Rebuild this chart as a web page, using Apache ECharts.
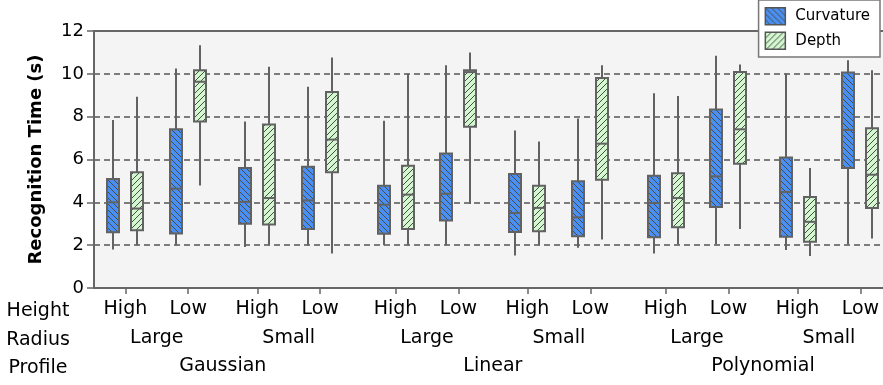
<!DOCTYPE html>
<html>
<head>
<meta charset="utf-8">
<script src="https://cdn.jsdelivr.net/npm/echarts@6/dist/echarts.min.js"></script>
<style>html,body{margin:0;padding:0;background:#fff}#c{width:883px;height:385px}</style>
</head>
<body>
<div id="c"></div>
<script>
// ---- data ----
const heights = ['High', 'Low'];
const radii = ['Large', 'Small'];
const profiles = ['Gaussian', 'Linear', 'Polynomial'];
const seriesNames = ['Curvature', 'Depth'];
const yTicks = [0, 2, 4, 6, 8, 10, 12];
// [min, q1, median, q3, max] per category, order: profile > radius > height
const curvature = [
  [1.80, 2.60, 4.00, 5.09, 7.84],
  [2.00, 2.54, 4.64, 7.41, 10.25],
  [1.92, 3.00, 4.02, 5.60, 7.77],
  [2.00, 2.76, 4.09, 5.66, 9.40],
  [2.00, 2.53, 3.89, 4.78, 7.81],
  [2.00, 3.15, 4.40, 6.28, 10.40],
  [1.52, 2.62, 3.50, 5.32, 7.35],
  [1.88, 2.42, 3.30, 4.98, 7.92],
  [1.61, 2.37, 3.97, 5.24, 9.09],
  [2.03, 3.78, 5.21, 8.34, 10.84],
  [1.77, 2.39, 4.48, 6.09, 10.02],
  [2.03, 5.60, 7.38, 10.06, 10.64]
];
const depth = [
  [2.00, 2.70, 3.71, 5.40, 8.93],
  [4.79, 7.77, 9.63, 10.17, 11.33],
  [2.00, 2.96, 4.20, 7.64, 10.33],
  [1.61, 5.40, 6.93, 9.15, 10.76],
  [2.00, 2.76, 4.36, 5.71, 10.00],
  [3.92, 7.53, 10.08, 10.17, 11.00],
  [2.00, 2.65, 3.74, 4.78, 6.84],
  [2.26, 5.05, 6.74, 9.81, 10.40],
  [2.03, 2.84, 4.20, 5.36, 8.96],
  [2.76, 5.80, 7.41, 10.09, 10.43],
  [1.49, 2.16, 3.09, 4.25, 5.60],
  [2.31, 3.74, 5.29, 7.46, 10.17]
];

// ---- layout of categories along x (gaps between groups) ----
const GAP_H = 20, GAP_R = 42, GAP_P = 86;
const catPos = [], heightLabelMap = {}, radiusLabelMap = {}, profileLabelMap = {};
profiles.forEach((p, pi) => {
  radii.forEach((r, ri) => {
    heights.forEach((h, hi) => {
      const x = pi * GAP_P + ri * GAP_R + hi * GAP_H;
      catPos.push(x);
      heightLabelMap[x] = h;
    });
    const mid = pi * GAP_P + ri * GAP_R + GAP_H / 2;
    radiusLabelMap[mid] = r;
  });
  const pmid = pi * GAP_P + (GAP_R + GAP_H) / 2;
  profileLabelMap[pmid] = p;
});
const radiusPos = Object.keys(radiusLabelMap).map(Number);
const profilePos = Object.keys(profileLabelMap).map(Number);

function hatch(bg, dir) {
  const s = 6;
  const c = document.createElement('canvas');
  c.width = s; c.height = s;
  const g = c.getContext('2d');
  g.fillStyle = bg; g.fillRect(0, 0, s, s);
  g.strokeStyle = '#4a4a4a'; g.lineWidth = 1;
  g.beginPath();
  if (dir === 'back') {
    g.moveTo(0, 0); g.lineTo(s, s);
    g.moveTo(-1, s - 1); g.lineTo(1, s + 1);
    g.moveTo(s - 1, -1); g.lineTo(s + 1, 1);
  } else {
    g.moveTo(0, s); g.lineTo(s, 0);
    g.moveTo(-1, 1); g.lineTo(1, -1);
    g.moveTo(s - 1, s + 1); g.lineTo(s + 1, s - 1);
  }
  g.stroke();
  return { type: 'pattern', image: c, repeat: 'repeat' };
}
const patterns = [hatch('#4a90f2', 'back'), hatch('#d3f8cf', 'fwd')];
const offsets = [-12, 12];

function renderItem(params, api) {
  const pos = api.value(0);
  const pMin = api.coord([pos, api.value(1)]);
  const pQ1 = api.coord([pos, api.value(2)]);
  const pMed = api.coord([pos, api.value(3)]);
  const pQ3 = api.coord([pos, api.value(4)]);
  const pMax = api.coord([pos, api.value(5)]);
  const x = Math.round(pMin[0] + offsets[params.seriesIndex]);
  const hw = 6;
  const stroke = '#626262';
  return {
    type: 'group',
    children: [
      { type: 'line', shape: { x1: x, y1: pMax[1], x2: x, y2: pMin[1] }, style: { stroke: stroke, lineWidth: 2 } },
      { type: 'rect', shape: { x: x - hw, y: pQ3[1], width: 2 * hw, height: pQ1[1] - pQ3[1] }, style: { fill: patterns[params.seriesIndex], stroke: stroke, lineWidth: 2 } },
      { type: 'line', shape: { x1: x - hw, y1: pMed[1], x2: x + hw, y2: pMed[1] }, style: { stroke: stroke, lineWidth: 2 } }
    ]
  };
}

const FONT = 'DejaVu Sans';
const xMin = -10, xMax = 241.2;
const labelStyle = { fontFamily: FONT, fontSize: 19, color: '#000' };

const chart = echarts.init(document.getElementById('c'), null, { renderer: 'canvas' });
chart.setOption({
  animation: false,
  backgroundColor: '#fff',
  textStyle: { fontFamily: FONT },
  grid: { left: 94, right: 0, top: 31, bottom: 97, show: true, backgroundColor: '#f4f4f4', borderWidth: 0 },
  legend: {
    data: seriesNames,
    orient: 'vertical',
    right: 3, top: 0,
    padding: [7, 10, 7, 6],
    itemGap: 6, itemWidth: 20, itemHeight: 17,
    icon: 'rect',
    backgroundColor: '#fff',
    borderColor: '#777', borderWidth: 1.5,
    itemStyle: { borderColor: '#555', borderWidth: 1.5 },
    textStyle: { fontFamily: FONT, fontSize: 15, color: '#000', padding: [0, 0, 0, 5] },
    selectedMode: false
  },
  xAxis: [
    {
      type: 'value', min: xMin, max: xMax, position: 'bottom',
      axisLine: { show: true, onZero: false, lineStyle: { color: '#666', width: 2 } },
      axisTick: { show: true, customValues: catPos, length: 6, lineStyle: { color: '#666', width: 1.5 } },
      axisLabel: { customValues: catPos, margin: 12, formatter: v => heightLabelMap[v] || '', ...labelStyle },
      splitLine: { show: false }
    },
    {
      type: 'value', min: xMin, max: xMax, position: 'bottom', offset: 29,
      axisLine: { show: false, onZero: false }, axisTick: { show: false },
      axisLabel: { customValues: radiusPos, margin: 12, formatter: v => radiusLabelMap[v] || '', ...labelStyle },
      splitLine: { show: false }
    },
    {
      type: 'value', min: xMin, max: xMax, position: 'bottom', offset: 57,
      axisLine: { show: false, onZero: false }, axisTick: { show: false },
      axisLabel: { customValues: profilePos, margin: 12, formatter: v => profileLabelMap[v] || '', ...labelStyle },
      splitLine: { show: false }
    },
    {
      type: 'value', min: xMin, max: xMax, position: 'top',
      axisLine: { show: true, onZero: false, lineStyle: { color: '#666', width: 2 } },
      axisTick: { show: false }, axisLabel: { show: false }, splitLine: { show: false }
    }
  ],
  yAxis: {
    type: 'value', min: yTicks[0], max: yTicks[yTicks.length - 1], interval: 2,
    name: 'Recognition Time (s)', nameLocation: 'middle', nameGap: 49,
    nameTextStyle: { fontFamily: FONT, fontSize: 18, fontWeight: 'bold', color: '#000' },
    axisLine: { show: true, onZero: false, lineStyle: { color: '#666', width: 2 } },
    axisTick: { show: true, length: 7, lineStyle: { color: '#666', width: 1.5 } },
    axisLabel: { fontFamily: FONT, fontSize: 18, color: '#000', margin: 10 },
    splitLine: { show: true, lineStyle: { color: '#555', width: 1.5, type: [6, 4] } }
  },
  graphic: [
    { type: 'text', x: 38, y: 311, style: { text: 'Height', font: '19px "DejaVu Sans"', fill: '#000', align: 'center', verticalAlign: 'middle' } },
    { type: 'text', x: 38, y: 340, style: { text: 'Radius', font: '19px "DejaVu Sans"', fill: '#000', align: 'center', verticalAlign: 'middle' } },
    { type: 'text', x: 38, y: 368, style: { text: 'Profile', font: '19px "DejaVu Sans"', fill: '#000', align: 'center', verticalAlign: 'middle' } }
  ],
  series: [curvature, depth].map((arr, si) => ({
    name: seriesNames[si],
    type: 'custom',
    xAxisIndex: 0, yAxisIndex: 0,
    renderItem: renderItem,
    itemStyle: { color: patterns[si] },
    encode: { x: 0, y: [1, 2, 3, 4, 5] },
    data: arr.map((v, i) => [catPos[i]].concat(v)),
    z: 3
  }))
});
</script>
</body>
</html>
